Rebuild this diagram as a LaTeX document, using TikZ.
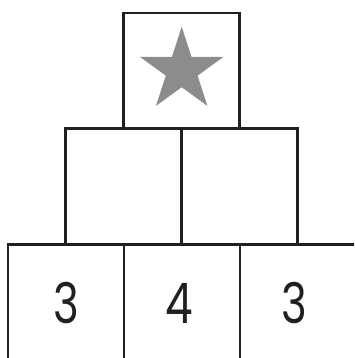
\documentclass[tikz,border=0pt]{standalone}
\usepackage{fontspec}
\newfontfamily\digitfont{Poppins}
\definecolor{stargray}{HTML}{8B8C8E}
\definecolor{ink}{HTML}{231F20}
\begin{document}
\begin{tikzpicture}[x=1pt,y=-1pt,
  cell/.style={draw=ink, line width=2.5pt, line join=miter},
  digit/.style={font=\digitfont\fontsize{56}{56}\selectfont, text=ink, anchor=center, inner sep=0pt, xscale=0.78}]
\useasboundingbox (0,0) rectangle (354,358);
\begin{scope}
\clip (0,0) rectangle (354,358);
% top
\draw[cell] (123.5,128.3) rectangle (239.5,13);
% middle
\draw[cell] (65.7,128.3) rectangle (181.7,244);
\draw[cell] (181.7,128.3) rectangle (297.7,244);
% bottom
\draw[cell] (8,244.3) rectangle (124,370);
\draw[cell] (124,244.3) rectangle (240,370);
\draw[cell] (240,244.3) rectangle (356,370);
% star
\begin{scope}[shift={(181.7,70.5)}]
\fill[stargray] (-90:43.8) -- (-54:16.7) -- (-18:43.8) -- (18:16.7) -- (54:43.8)
  -- (90:16.7) -- (126:43.8) -- (162:16.7) -- (198:43.8) -- (234:16.7) -- cycle;
\end{scope}
\end{scope}
\node[digit] (d1) at (66,303) {3};
\node[digit] (d2) at (179,303) {4};
\node[digit] (d3) at (294,303) {3};
\end{tikzpicture}
\end{document}
